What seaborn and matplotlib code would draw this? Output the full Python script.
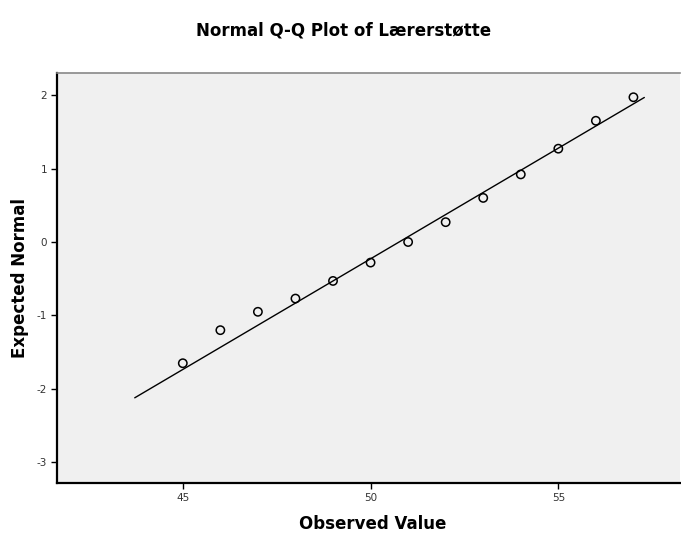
import matplotlib
matplotlib.use("Agg")
import matplotlib.pyplot as plt
import seaborn as sns
import numpy as np
import pandas as pd

# Data
observed = [45, 46, 47, 48, 49, 50, 51, 52, 53, 54, 55, 56, 57]
expected = [-1.65, -1.20, -0.95, -0.77, -0.53, -0.28, 0.00, 0.27, 0.60, 0.92, 1.27, 1.65, 1.97]
line_mean = 50.76
line_sd = 3.32
line_x = [43.72, 57.29]
x_ticks = [45, 50, 55]
y_ticks = [2, 1, 0, -1, -2, -3]
title = "Normal Q-Q Plot of Lærerstøtte"

sns.set_theme(style="white")
plt.rcParams['font.family'] = ['DejaVu Sans']

fig = plt.figure(figsize=(6.81, 5.36), dpi=100)
ax = fig.add_axes([57/681, 1-483/536, 623/681, (483-73)/536])
ax.set_facecolor("#f0f0f0")

pts = pd.DataFrame({"Observed Value": observed, "Expected Normal": expected})
line_df = pd.DataFrame({"x": line_x, "y": [(v - line_mean) / line_sd for v in line_x]})

sns.lineplot(data=line_df, x="x", y="y", ax=ax, color="black", linewidth=1.0, zorder=2)
sns.scatterplot(data=pts, x="Observed Value", y="Expected Normal", ax=ax,
                marker="o", s=36, facecolor="none", edgecolor="black", linewidth=1.1, zorder=3)

ax.set_xlim(41.65, 58.24)
ax.set_ylim(-3.28, 2.3)
ax.set_xticks(x_ticks)
ax.set_yticks(y_ticks)
ax.set_xticklabels([str(t) for t in x_ticks], fontsize=7.5, color="#333333")
ax.set_yticklabels([str(t) for t in y_ticks], fontsize=7.5, color="#333333")
ax.tick_params(axis="both", which="both", length=4, width=1, color="black", direction="out",
               left=True, bottom=True, pad=3)

for s in ["left", "bottom"]:
    ax.spines[s].set_color("black")
    ax.spines[s].set_linewidth(1.6)
ax.spines["top"].set_color("#888888")
ax.spines["top"].set_linewidth(1.2)
ax.spines["right"].set_visible(False)

ax.set_xlabel("")
ax.set_ylabel("")
fig.text(373/681, 1-524/536, "Observed Value", ha="center", va="center",
         fontsize=12, fontweight="bold", color="black")
fig.text(20/681, 1-278/536, "Expected Normal", ha="center", va="center",
         fontsize=12, fontweight="bold", rotation=90, color="black")
fig.text(344/681, 1-30/536, title, ha="center", va="center", fontsize=12,
         fontweight="bold", color="black")

fig.savefig("out.png", dpi=100)
